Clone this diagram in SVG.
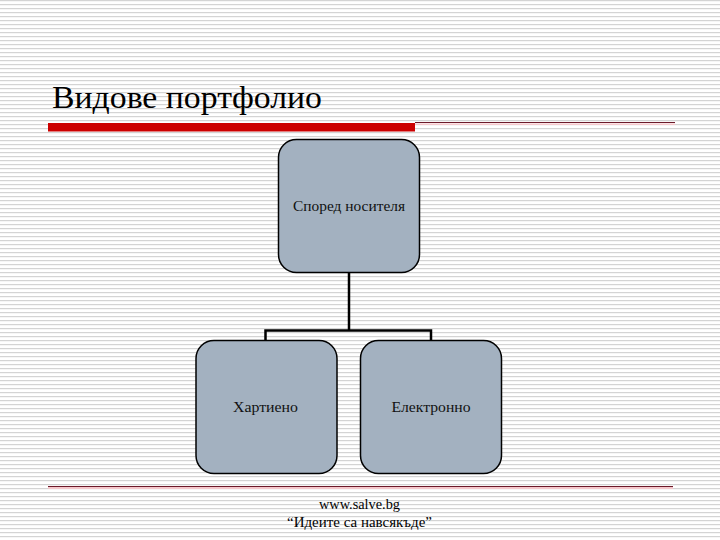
<svg xmlns="http://www.w3.org/2000/svg" width="720" height="540" viewBox="0 0 720 540">
<defs>
<pattern id="stripes" width="8" height="4" patternUnits="userSpaceOnUse">
<rect width="8" height="4" fill="#ffffff"/>
<rect y="0" width="8" height="1.2" fill="#d4d4d4"/>
</pattern>
</defs>
<style>
.node{fill:#a3b1c0;stroke:#000;stroke-width:1.5}
.lbl{font-family:"Liberation Serif",serif;font-size:15px;fill:#111;text-anchor:middle}
.conn{fill:none;stroke:#000;stroke-width:2.5}
.foot{font-family:"Liberation Serif",serif;font-size:14px;fill:#000;text-anchor:middle}
</style>
<rect width="720" height="540" fill="url(#stripes)"/>
<text x="52" y="108" font-family="Liberation Serif, serif" font-size="32" fill="#000" textLength="270" lengthAdjust="spacingAndGlyphs">Видове портфолио</text>
<rect x="415" y="123.5" width="260" height="1.5" fill="#f5c8cc"/>
<line x1="415" y1="122.5" x2="675" y2="122.5" stroke="#6b1a2a" stroke-width="1.2"/>
<rect x="48" y="123" width="367" height="8.5" fill="#cc0000"/>
<rect x="48" y="487" width="625" height="2" fill="#f5c8cc"/>
<line x1="48" y1="486.5" x2="673" y2="486.5" stroke="#6b1a2a" stroke-width="1.2"/>
<g id="connectors">
<path class="conn" d="M349,273 V330.5 M265.5,340 V330.5 H431 V340"/>
</g>
<g id="node-carrier">
<rect class="node" x="278.5" y="139.5" width="141" height="133" rx="18"/>
<text class="lbl" x="349" y="211" textLength="112" lengthAdjust="spacingAndGlyphs">Според носителя</text>
</g>
<g id="node-paper">
<rect class="node" x="196" y="340.5" width="141" height="133" rx="18"/>
<text class="lbl" x="265.5" y="412" textLength="65" lengthAdjust="spacingAndGlyphs">Хартиено</text>
</g>
<g id="node-electronic">
<rect class="node" x="360.5" y="340.5" width="141" height="133" rx="18"/>
<text class="lbl" x="431" y="412" textLength="79" lengthAdjust="spacingAndGlyphs">Електронно</text>
</g>
<text class="foot" x="359.5" y="509" textLength="81" lengthAdjust="spacingAndGlyphs">www.salve.bg</text>
<text class="foot" x="359.5" y="527" textLength="145" lengthAdjust="spacingAndGlyphs">“Идеите са навсякъде”</text>
</svg>
